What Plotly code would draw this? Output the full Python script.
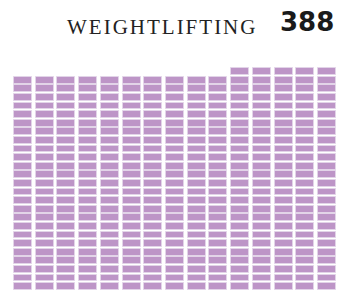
import plotly.graph_objects as go

# Data
title_label = "WEIGHTLIFTING"
total_label = "388"
column_counts = [25, 25, 25, 25, 25, 25, 25, 25, 25, 25, 26, 26, 26, 26, 26]

xs, bases = [], []
for ci, n in enumerate(column_counts):
    for r in range(n):
        xs.append(ci)
        bases.append(r)

fig = go.Figure()
fig.add_trace(go.Bar(
    x=xs, y=[0.8] * len(xs), base=bases,
    width=0.83,
    marker=dict(color="#bd95c7", line=dict(color="#e2d4e8", width=1)),
    hoverinfo="skip",
))

W, H = 349, 298
ml, mr, mt, mb = 12, 11, 60, 8
pw, ph = W - ml - mr, H - mt - mb


def px_x(x):
    return (x - ml) / pw


def px_y(y):
    return 1 - (y - mt) / ph


fig.update_layout(
    width=W, height=H, autosize=False,
    margin=dict(l=ml, r=mr, t=mt, b=mb, pad=0),
    paper_bgcolor="white", plot_bgcolor="white",
    showlegend=False, bargap=0,
    xaxis=dict(range=[-0.5, len(column_counts) - 0.5], visible=False, fixedrange=True),
    yaxis=dict(range=[0, ph / 8.6], visible=False, fixedrange=True),
)
fig.add_annotation(
    text='<span style="letter-spacing:2px">' + title_label + '</span>',
    xref="paper", yref="paper",
    x=px_x(259), y=px_y(41),
    xanchor="right", yanchor="bottom", showarrow=False,
    font=dict(family="Liberation Serif", size=21, color="#222222"),
)
fig.add_annotation(
    text="<b>" + total_label + "</b>", xref="paper", yref="paper",
    x=px_x(336), y=px_y(39),
    xanchor="right", yanchor="bottom", showarrow=False,
    font=dict(family="DejaVu Sans", size=26, color="#1a1a1a"),
)
fig.write_html("out.html", config={"displayModeBar": False},
               post_script="document.body.style.margin='0';")
